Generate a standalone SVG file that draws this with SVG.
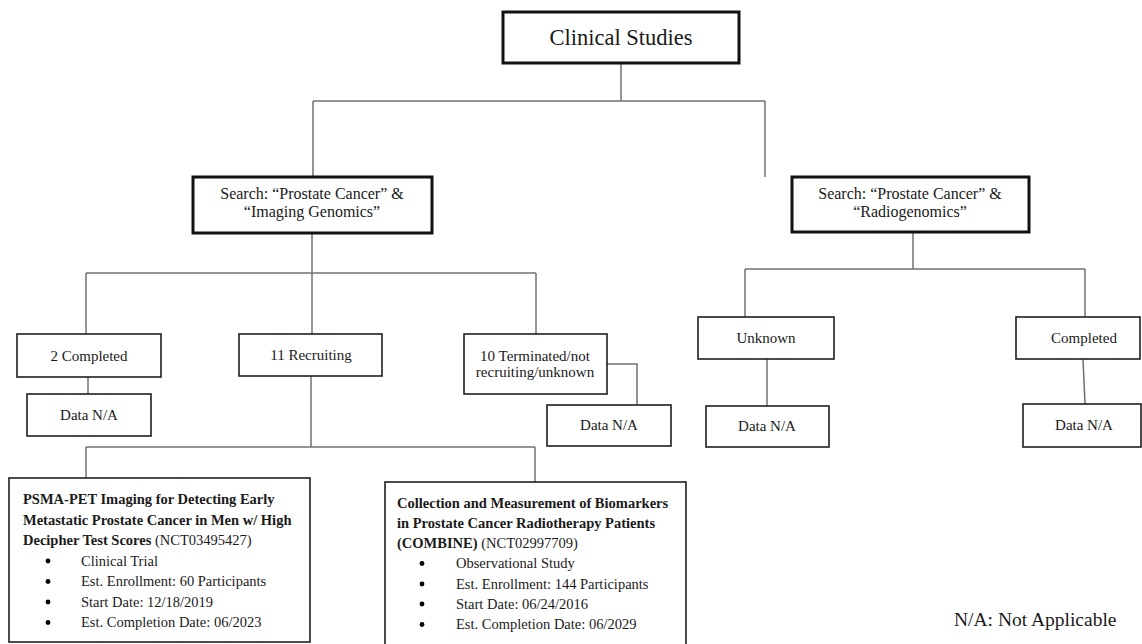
<svg xmlns="http://www.w3.org/2000/svg" width="1142" height="644" viewBox="0 0 1142 644" font-family="'Liberation Serif','Times New Roman',serif">
<style>
text{font-family:"Liberation Serif","Times New Roman",serif;fill:#1a1a1a}
.box{fill:#fff;stroke:#1f1f1f;stroke-width:1.6}
.thick{fill:#fff;stroke:#111;stroke-width:3}
.c{text-anchor:middle;font-size:15px}
.s{text-anchor:middle;font-size:16px}
.b{font-size:14.5px;font-weight:bold}
.n{font-weight:normal}
.i{font-size:14.5px}
.con line,.con polyline{stroke:#707070;stroke-width:1.5;fill:none}
</style>
<rect width="1142" height="644" fill="#fff"/>
<g class="con" id="connectors">
<line x1="621" y1="63" x2="621" y2="101"/>
<line x1="313" y1="101" x2="765" y2="101"/>
<line x1="313" y1="101" x2="313" y2="177"/>
<line x1="765" y1="101" x2="765" y2="177"/>
<line x1="312" y1="233" x2="312" y2="273"/>
<line x1="86" y1="273" x2="536" y2="273"/>
<line x1="86" y1="273" x2="86" y2="334"/>
<line x1="312" y1="273" x2="312" y2="334"/>
<line x1="536" y1="273" x2="536" y2="334"/>
<line x1="88" y1="377" x2="88" y2="394"/>
<polyline points="607,364 637,364 637,405"/>
<line x1="311" y1="376" x2="311" y2="447"/>
<line x1="86" y1="447" x2="535" y2="447"/>
<line x1="86" y1="447" x2="86" y2="478"/>
<line x1="535" y1="447" x2="535" y2="482"/>
<line x1="913" y1="232" x2="913" y2="269"/>
<line x1="745" y1="269" x2="1085" y2="269"/>
<line x1="745" y1="269" x2="745" y2="317"/>
<line x1="1085" y1="269" x2="1085" y2="317"/>
<line x1="767" y1="359" x2="767" y2="406"/>
<line x1="1083" y1="359" x2="1085" y2="404"/>
</g>
<g id="clinical-studies">
<rect class="thick" x="503" y="12" width="236" height="51"/>
<text x="621" y="45" text-anchor="middle" font-size="22.5">Clinical Studies</text>
</g>
<g id="search-imaging">
<rect class="thick" x="193" y="177" width="239" height="56"/>
<text class="s" x="312" y="199">Search: “Prostate Cancer” &amp;</text>
<text class="s" x="312" y="217">“Imaging Genomics”</text>
</g>
<g id="search-radio">
<rect class="thick" x="792" y="177" width="237" height="55"/>
<text class="s" x="910" y="199">Search: “Prostate Cancer” &amp;</text>
<text class="s" x="910" y="217">“Radiogenomics”</text>
</g>
<g id="completed2">
<rect class="box" x="17" y="334" width="144" height="43"/>
<text class="c" x="89" y="361">2 Completed</text>
</g>
<g id="datana1">
<rect class="box" x="27" y="394" width="124" height="42"/>
<text class="c" x="89" y="420">Data N/A</text>
</g>
<g id="recruiting">
<rect class="box" x="239" y="334" width="143" height="42"/>
<text class="c" x="311" y="360">11 Recruiting</text>
</g>
<g id="terminated">
<rect class="box" x="464" y="334" width="143" height="60"/>
<text class="c" x="535" y="361">10 Terminated/not</text>
<text class="c" x="535" y="377">recruiting/unknown</text>
</g>
<g id="datana2">
<rect class="box" x="547" y="405" width="124" height="41"/>
<text class="c" x="609" y="430">Data N/A</text>
</g>
<g id="unknown">
<rect class="box" x="698" y="317" width="136" height="42"/>
<text class="c" x="766" y="343">Unknown</text>
</g>
<g id="datana3">
<rect class="box" x="706" y="406" width="123" height="41"/>
<text class="c" x="767" y="431">Data N/A</text>
</g>
<g id="completedR">
<rect class="box" x="1016" y="317" width="124" height="42"/>
<text class="c" x="1084" y="343">Completed</text>
</g>
<g id="datana4">
<rect class="box" x="1023" y="404" width="118" height="43"/>
<text class="c" x="1084" y="430">Data N/A</text>
</g>
<g id="study-psma">
<rect class="box" x="9" y="478" width="301" height="164"/>
<text class="b" x="23" y="504">PSMA-PET Imaging for Detecting Early</text>
<text class="b" x="23" y="524.5">Metastatic Prostate Cancer in Men w/ High</text>
<text class="b" x="23" y="545">Decipher Test Scores <tspan class="n">(NCT03495427)</tspan></text>
<circle cx="48" cy="561" r="2.4"/><text class="i" x="81" y="565.5">Clinical Trial</text>
<circle cx="48" cy="581.5" r="2.4"/><text class="i" x="81" y="586">Est. Enrollment: 60 Participants</text>
<circle cx="48" cy="602" r="2.4"/><text class="i" x="81" y="606.5">Start Date: 12/18/2019</text>
<circle cx="48" cy="622.5" r="2.4"/><text class="i" x="81" y="627">Est. Completion Date: 06/2023</text>
</g>
<g id="study-combine">
<rect class="box" x="385" y="482" width="301" height="170"/>
<text class="b" x="397" y="508">Collection and Measurement of Biomarkers</text>
<text class="b" x="397" y="528">in Prostate Cancer Radiotherapy Patients</text>
<text class="b" x="397" y="548">(COMBINE) <tspan class="n">(NCT02997709)</tspan></text>
<circle cx="422" cy="563.5" r="2.4"/><text class="i" x="456" y="568">Observational Study</text>
<circle cx="422" cy="584" r="2.4"/><text class="i" x="456" y="588.5">Est. Enrollment: 144 Participants</text>
<circle cx="422" cy="604" r="2.4"/><text class="i" x="456" y="608.5">Start Date: 06/24/2016</text>
<circle cx="422" cy="624.5" r="2.4"/><text class="i" x="456" y="629">Est. Completion Date: 06/2029</text>
</g>
<text x="954" y="626" font-size="19.5">N/A: Not Applicable</text>
</svg>
